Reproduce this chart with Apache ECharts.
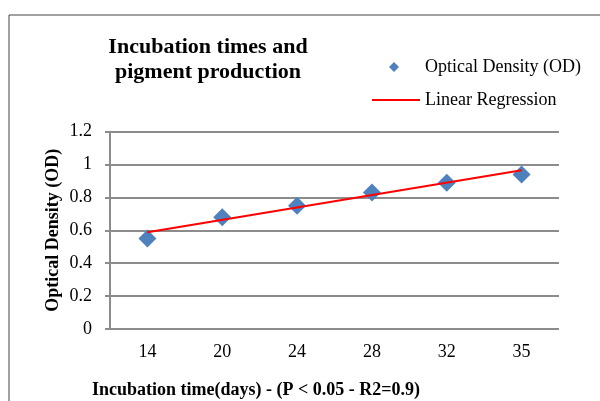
<!DOCTYPE html>
<html>
<head>
<meta charset="utf-8">
<script src="https://cdn.jsdelivr.net/npm/echarts@6/dist/echarts.min.js"></script>
<style>
  html, body { margin: 0; padding: 0; background: #fff; }
  #chart { width: 600px; height: 401px; }
</style>
</head>
<body>
<div id="chart"></div>
<script>
// incubation days (category axis)
const days = ['14', '20', '24', '28', '32', '35'];
// measured optical density
const odValues = [0.55, 0.68, 0.75, 0.83, 0.89, 0.94];
// trend line, only its two ends
const regression = [0.588, null, null, null, null, 0.965];
const yTicks = { min: 0, max: 1.2, step: 0.2 };

const serif = '"Liberation Serif", "Times New Roman", serif';

const chart = echarts.init(document.getElementById('chart'));
chart.setOption({
  animation: false,
  backgroundColor: '#fff',
  textStyle: { fontFamily: serif },
  graphic: [
    {
      type: 'rect',
      shape: { x: 9, y: 15, width: 700, height: 500 },
      style: { fill: 'none', stroke: '#444', lineWidth: 1 },
      silent: true
    },
    {
      type: 'text',
      x: 208, y: 59.5,
      style: {
        text: 'Incubation times and\npigment production',
        fontFamily: serif, fontWeight: 'bold', fontSize: 22,
        lineHeight: 25, textAlign: 'center', textVerticalAlign: 'middle',
        fill: '#000'
      }
    },
    {
      type: 'text',
      x: 92, y: 390,
      style: {
        text: 'Incubation time(days) - (P < 0.05 - R2=0.9)',
        fontFamily: serif, fontWeight: 'bold', fontSize: 18,
        textAlign: 'left', textVerticalAlign: 'middle', fill: '#000'
      }
    }
  ],
  legend: [
    {
      data: [{ name: 'Optical Density (OD)', icon: 'diamond' }],
      left: 384, top: 53,
      itemWidth: 10, itemHeight: 10,
      textStyle: { fontFamily: serif, fontSize: 18, color: '#000', padding: [0, 0, 0, 21] }
    },
    {
      data: [{ name: 'Linear Regression', icon: 'rect' }],
      left: 367, top: 86,
      itemWidth: 48, itemHeight: 2,
      textStyle: { fontFamily: serif, fontSize: 18, color: '#000' }
    }
  ],
  grid: { left: 110, right: 41, top: 131.7, bottom: 72 },
  xAxis: {
    type: 'category',
    data: days,
    boundaryGap: true,
    axisLine: { show: false },
    axisTick: { show: false },
    axisLabel: { fontFamily: serif, fontSize: 18, color: '#000', margin: 14 }
  },
  yAxis: {
    type: 'value',
    min: yTicks.min, max: yTicks.max, interval: yTicks.step,
    name: 'Optical Density (OD)',
    nameLocation: 'middle',
    nameGap: 48,
    nameMoveOverlap: false,
    nameTextStyle: { fontFamily: serif, fontSize: 18, fontWeight: 'bold', color: '#000' },
    axisLine: { show: true, lineStyle: { color: '#8c8c8c', width: 2 } },
    axisTick: { show: true, length: 5, lineStyle: { color: '#8c8c8c', width: 2 } },
    axisLabel: { fontFamily: serif, fontSize: 18, color: '#000', margin: 18 },
    splitLine: { lineStyle: { color: '#8c8c8c', width: 2 } }
  },
  series: [
    {
      name: 'Optical Density (OD)',
      type: 'scatter',
      data: odValues,
      symbol: 'diamond',
      symbolSize: 18,
      itemStyle: { color: '#4F81BD', opacity: 1 },
      z: 3
    },
    {
      name: 'Linear Regression',
      type: 'line',
      data: regression,
      connectNulls: true,
      symbol: 'none',
      lineStyle: { color: '#FF0000', width: 2 },
      itemStyle: { color: '#FF0000' },
      z: 4
    }
  ]
});
</script>
</body>
</html>
